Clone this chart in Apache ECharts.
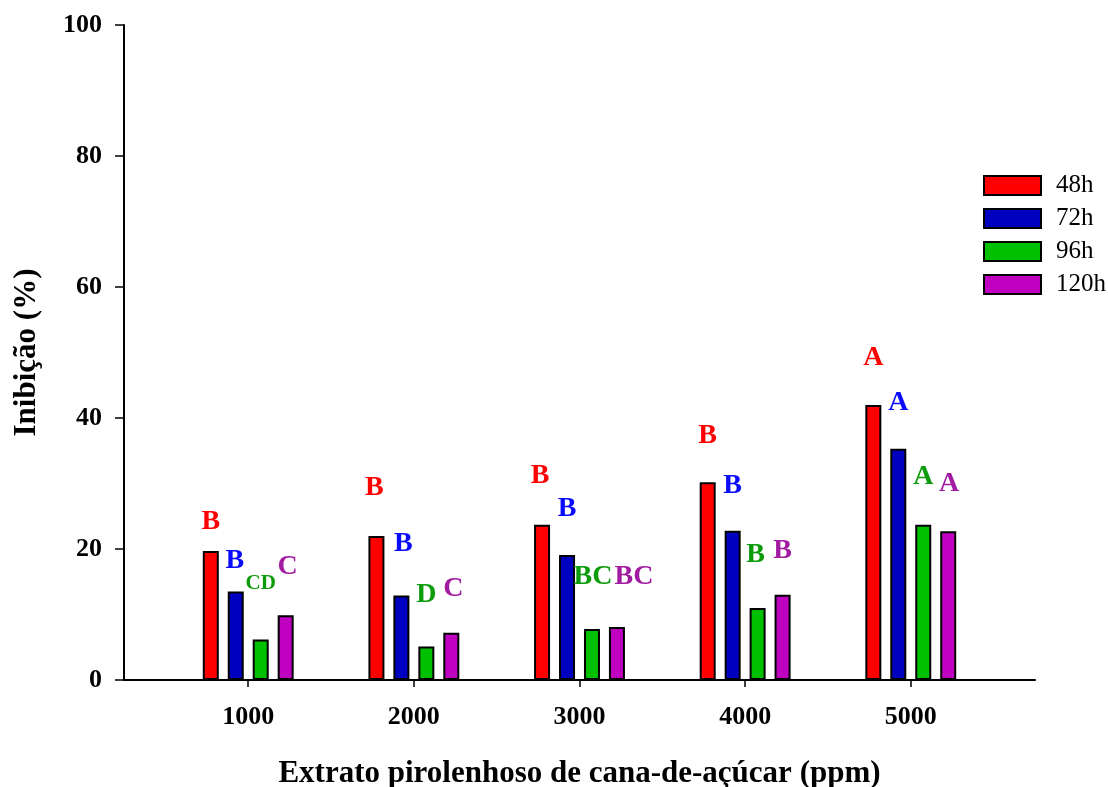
<!DOCTYPE html>
<html>
<head>
<meta charset="utf-8">
<script src="https://cdn.jsdelivr.net/npm/echarts@6/dist/echarts.min.js"></script>
<style>
  html, body { margin: 0; padding: 0; background: #fff; }
  #chart { width: 1108px; height: 787px; }
</style>
</head>
<body>
<div id="chart"></div>
<script>
// Concentrations of the pyroligneous extract (ppm)
const concentrations = [1000, 2000, 3000, 4000, 5000];
const yTicks = [0, 20, 40, 60, 80, 100];

// Mycelial growth inhibition (%) per incubation time
const inib48h  = [19.7, 22.0, 23.7, 30.2, 42.0];
const inib72h  = [13.5, 12.9, 19.1, 22.8, 35.3];
const inib96h  = [6.2, 5.1, 7.8, 11.0, 23.7];
const inib120h = [9.9, 7.2, 8.1, 13.0, 22.7];

// Significance letters (Tukey) per time and concentration
const let48h  = ['B', 'B', 'B', 'B', 'A'];
const let72h  = ['B', 'B', 'B', 'B', 'A'];
const let96h  = ['CD', 'D', 'BC', 'B', 'A'];
const let120h = ['C', 'C', 'BC', 'B', 'A'];

// Letter placement: gap (px) above each bar and horizontal nudge (px)
const letterGap = [
  [19, 38, 39, 36, 37],
  [21, 42, 36, 35, 36],
  [48, 42, 42, 43, 38],
  [38, 34, 40, 34, 38]
];
const letterDx = [
  [0, -2, -2, 0, 0],
  [-1, 2, 0, 0, 0],
  [0, 0, 1, -2, 0],
  [2, 2, 17, 0, 1]
];

const FONT = '"Liberation Serif", "Times New Roman", serif';

const seriesDefs = [
  { name: '48h',  values: inib48h,  letters: let48h,  color: '#FF0000', textColor: '#FF0000' },
  { name: '72h',  values: inib72h,  letters: let72h,  color: '#0000C0', textColor: '#0A0AFF' },
  { name: '96h',  values: inib96h,  letters: let96h,  color: '#00C000', textColor: '#0B9B0B' },
  { name: '120h', values: inib120h, letters: let120h, color: '#C000C0', textColor: '#A21CA2' }
];

const series = seriesDefs.map((s, si) => ({
  name: s.name,
  type: 'bar',
  barWidth: 16,
  barGap: '56%',
  itemStyle: { color: s.color, borderColor: '#000', borderWidth: 2 },
  label: {
    show: true,
    position: 'top',
    fontFamily: FONT,
    fontWeight: 'bold',
    fontSize: 28,
    lineHeight: 28,
    color: s.textColor
  },
  data: concentrations.map((c, i) => {
    const txt = s.letters[i];
    const fs = txt === 'CD' ? 21 : 28;
    return {
      value: [c, s.values[i]],
      label: {
        formatter: txt,
        fontSize: fs,
        lineHeight: fs,
        distance: letterGap[si][i] - Math.round(fs * 0.16),
        offset: [letterDx[si][i], 0]
      }
    };
  })
}));

const chart = echarts.init(document.getElementById('chart'), null, { renderer: 'canvas' });
chart.setOption({
  animation: false,
  backgroundColor: '#ffffff',
  grid: { left: 124, right: 73, top: 25, bottom: 107, containLabel: false, outerBoundsMode: 'none' },
  legend: {
    orient: 'vertical',
    left: 983,
    top: 173,
    padding: 0,
    itemWidth: 57,
    itemHeight: 19,
    itemGap: 8,
    icon: 'rect',
    textStyle: { fontFamily: FONT, fontSize: 25, color: '#000', padding: [0, 0, 0, 10] },
    data: seriesDefs.map(s => s.name)
  },
  xAxis: {
    type: 'value',
    min: 250,
    max: 5750,
    name: 'Extrato pirolenhoso de cana-de-açúcar (ppm)',
    nameLocation: 'middle',
    nameGap: 78,
    nameTextStyle: { fontFamily: FONT, fontWeight: 'bold', fontSize: 31, color: '#000' },
    splitLine: { show: false },
    axisLine: { show: true, lineStyle: { color: '#000', width: 2 } },
    axisTick: { show: true, length: 7, lineStyle: { color: '#000', width: 1.5 }, customValues: concentrations },
    axisLabel: {
      customValues: concentrations,
      margin: 24,
      fontFamily: FONT, fontWeight: 'bold', fontSize: 26, color: '#000',
      formatter: v => String(v)
    }
  },
  yAxis: {
    type: 'value',
    min: 0,
    max: 100,
    interval: 20,
    name: 'Inibição (%)',
    nameLocation: 'middle',
    nameGap: 82,
    nameTextStyle: { fontFamily: FONT, fontWeight: 'bold', fontSize: 31, color: '#000' },
    splitLine: { show: false },
    axisLine: { show: true, lineStyle: { color: '#000', width: 2 } },
    axisTick: { show: true, length: 9, lineStyle: { color: '#000', width: 1.5 } },
    axisLabel: {
      margin: 22,
      fontFamily: FONT, fontWeight: 'bold', fontSize: 26, color: '#000',
      formatter: v => (yTicks.indexOf(v) >= 0 ? String(v) : '')
    }
  },
  series: series
});
</script>
</body>
</html>
